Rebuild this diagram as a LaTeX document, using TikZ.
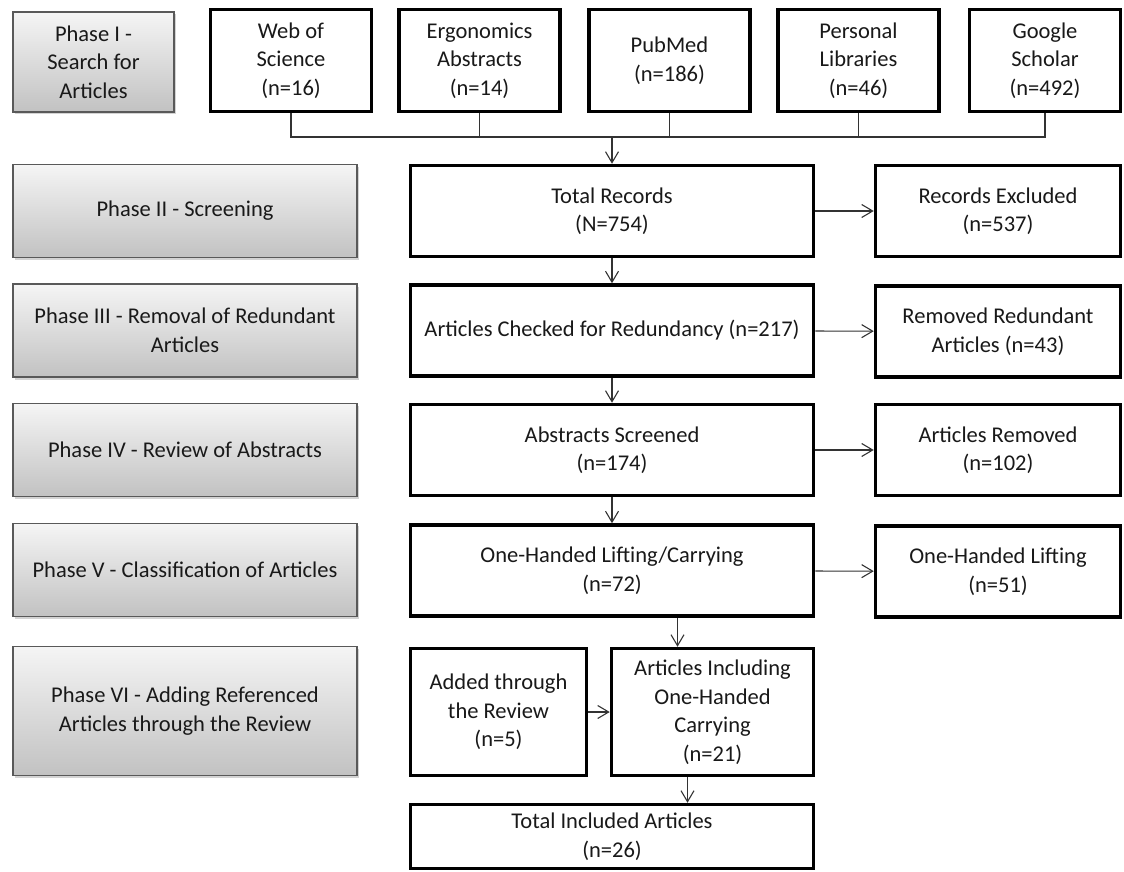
\documentclass[tikz,border=0pt]{standalone}
\usepackage{fontspec}
\setmainfont{Carlito}
\usetikzlibrary{arrows.meta,shadows}

\begin{document}
\begin{tikzpicture}[x=1pt, y=-1pt,
  every node/.style={font=\fontsize{22.5}{28.5}\selectfont, align=center, inner sep=0pt, text=black!90},
  phasebox/.style={draw=black!65, line width=1.2pt, top color=gray!8, bottom color=gray!48,
    minimum width=344pt, drop shadow={shadow xshift=1.5pt, shadow yshift=-2.5pt, opacity=0.35}},
  srcbox/.style={draw=black, line width=3.5pt, fill=white, minimum width=161pt, minimum height=102pt},
  flowbox/.style={draw=black, line width=3.5pt, fill=white, minimum width=403pt, minimum height=91pt},
  sidebox/.style={draw=black, line width=3.5pt, fill=white, minimum width=245pt, minimum height=91pt},
  link/.style={line width=1.1pt, black!80},
  arr/.style={link, -{Straight Barb[length=11pt, width=13pt]}}]
\useasboundingbox (0,0) rectangle (1124,872);

% phases on the left
\node[phasebox, minimum width=161pt, minimum height=100pt] (ph1) at (93.5,62) {Phase I -\\Search for\\Articles};
\node[phasebox, minimum height=93pt] (ph2) at (185,211) {Phase II - Screening};
\node[phasebox, minimum height=93pt] (ph3) at (185,330.5) {Phase III - Removal of Redundant\\Articles};
\node[phasebox, minimum height=93pt] (ph4) at (185,450) {Phase IV - Review of Abstracts};
\node[phasebox, minimum height=93pt] (ph5) at (185,570) {Phase V - Classification of Articles};
\node[phasebox, minimum height=129pt] (ph6) at (185,711) {Phase VI - Adding Referenced\\Articles through the Review};

% sources
\node[srcbox] (wos) at (291,60.5) {Web of\\Science\\(n=16)};
\node[srcbox] (ergo) at (479.5,60.5) {Ergonomics\\Abstracts\\(n=14)};
\node[srcbox] (pubmed) at (669.5,60.5) {PubMed\\(n=186)};
\node[srcbox] (perslib) at (858.5,60.5) {Personal\\Libraries\\(n=46)};
\node[srcbox, minimum width=151pt] (scholar) at (1045,60.5) {Google\\Scholar\\(n=492)};

% main column
\node[flowbox] (total) at (612,211) {Total Records\\(N=754)};
\node[flowbox] (redund) at (612,330.5) {Articles Checked for Redundancy (n=217)};
\node[flowbox] (abstr) at (612,450) {Abstracts Screened\\(n=174)};
\node[flowbox] (onelc) at (612,570.5) {One-Handed Lifting/Carrying\\(n=72)};
\node[draw=black, line width=3.5pt, fill=white, minimum width=176pt, minimum height=127pt] (added) at (498.5,712) {Added through\\the Review\\(n=5)};
\node[draw=black, line width=3.5pt, fill=white, minimum width=202pt, minimum height=127pt] (carry) at (712.5,712) {Articles Including\\One-Handed\\Carrying\\(n=21)};
\node[flowbox, minimum height=64pt] (included) at (612,836.5) {Total Included Articles\\(n=26)};

% right column
\node[sidebox] (excl) at (998,211) {Records Excluded\\(n=537)};
\node[sidebox] (remred) at (998,331.5) {Removed Redundant\\Articles (n=43)};
\node[sidebox] (artrem) at (998,450) {Articles Removed\\(n=102)};
\node[sidebox] (onel) at (998,571.5) {One-Handed Lifting\\(n=51)};

% collecting line under the sources
\coordinate (bus) at (0,137);
\draw[link] (wos.south) -- (wos.south |- bus) -- (scholar.south |- bus) -- (scholar.south);
\foreach \src in {ergo,pubmed,perslib}
  \draw[link] (\src.south) -- (\src.south |- bus);
\draw[arr] (total.north |- bus) -- (total.north);

% down the main column
\draw[arr] (total) -- (redund);
\draw[arr] (redund) -- (abstr);
\draw[arr] (abstr) -- (onelc);
\path (carry.north) ++(-35,0) coordinate (carryin);
\draw[arr] (onelc.south -| carryin) -- (carryin);
\draw[arr] (added) -- (carry);
\path (carry.south) ++(-25,0) coordinate (carryout);
\draw[arr] (carryout) -- (carryout |- included.north);

% to the right
\draw[arr] (total) -- (excl);
\draw[arr] (redund) -- (remred);
\draw[arr] (abstr) -- (artrem);
\draw[arr] (onelc) -- (onel);
\end{tikzpicture}
\end{document}
